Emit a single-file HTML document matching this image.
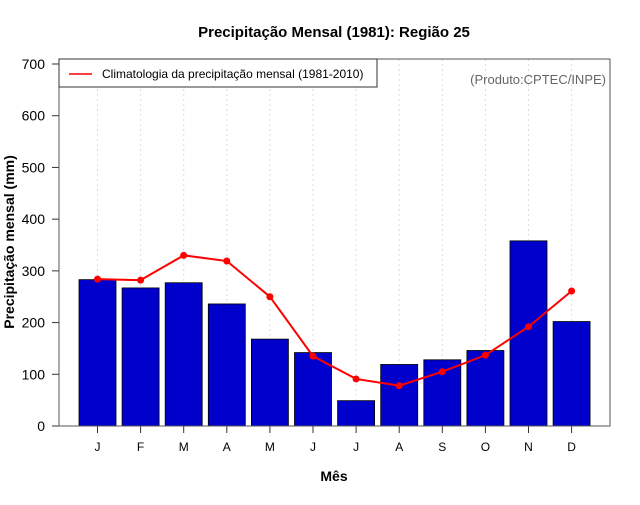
<!DOCTYPE html>
<html><head><meta charset="utf-8"><style>
body{margin:0;background:#fff}
svg text{font-family:"Liberation Sans",sans-serif}
</style></head><body>
<svg id="c" width="640" height="500" xmlns="http://www.w3.org/2000/svg">
<text x="334" y="37" text-anchor="middle" font-size="15" font-weight="bold">Precipitação Mensal (1981): Região 25</text>
<text x="334" y="481" text-anchor="middle" font-size="14" font-weight="bold">Mês</text>
<text transform="translate(14,242) rotate(-90)" text-anchor="middle" font-size="14" font-weight="bold">Precipitação mensal (mm)</text>
<g id="grid"></g><g id="bars"></g><g id="line"></g><g id="axes"></g>
<rect x="59" y="59" width="551" height="367" fill="none" stroke="#555" stroke-width="1"/>
<g>
<rect x="59" y="59" width="318" height="28" fill="#fff" stroke="#333"/>
<line x1="69" y1="74" x2="92" y2="74" stroke="red" stroke-width="1.5"/>
<text x="102" y="78" font-size="12">Climatologia da precipitação mensal (1981-2010)</text>
</g>
<text x="606" y="84" text-anchor="end" font-size="13" fill="#666">(Produto:CPTEC/INPE)</text>
</svg>
<script>
const months=["J","F","M","A","M","J","J","A","S","O","N","D"];
const observed=[283,267,277,236,168,142,49,119,128,146,358,202];
const climatology=[284,282,330,319,250,135,91,78,105,137,192,261];
const yTicks=[0,100,200,300,400,500,600,700];
const NS="http://www.w3.org/2000/svg";
const xs=i=>97.5+i*43.1;
const ys=v=>426-v*(362/700);
function mk(t,a,p){const e=document.createElementNS(NS,t);for(const k in a)e.setAttribute(k,a[k]);p.appendChild(e);return e;}
const g=document.getElementById('grid'),b=document.getElementById('bars'),l=document.getElementById('line'),ax=document.getElementById('axes');
months.forEach((m,i)=>{
 const gl=mk('line',{x1:xs(i),x2:xs(i),y1:59,y2:426,stroke:'#ddd','stroke-dasharray':'2,3'},g);
 
 
 const r=mk('rect',{x:xs(i)-18.5,y:ys(observed[i]),width:37,height:426-ys(observed[i]),fill:'#0000cd',stroke:'#000','stroke-width':0.8},b);
 
 
 const t=mk('line',{x1:xs(i),x2:xs(i),y1:426,y2:433,stroke:'#333'},ax);
 
 
 const tx=mk('text',{x:xs(i),y:451,'text-anchor':'middle','font-size':12},ax);tx.textContent=m;
 
 
});
const pl=mk('polyline',{points:climatology.map((v,i)=>xs(i)+','+ys(v)).join(' '),fill:'none',stroke:'red','stroke-width':2},l);


climatology.forEach((v,i)=>{const c=mk('circle',{cx:xs(i),cy:ys(v),r:3.5,fill:'red'},l);
 
 });
yTicks.forEach(v=>{
 const t=mk('line',{x1:52,x2:59,y1:ys(v),y2:ys(v),stroke:'#333'},ax);
 
 
 const tx=mk('text',{x:45,y:ys(v)+5,'text-anchor':'end','font-size':14},ax);tx.textContent=v;
 
 
});
const yl=mk('line',{x1:59,x2:59,y1:ys(0),y2:ys(700),stroke:'#333'},ax);


</script>
</body></html>
